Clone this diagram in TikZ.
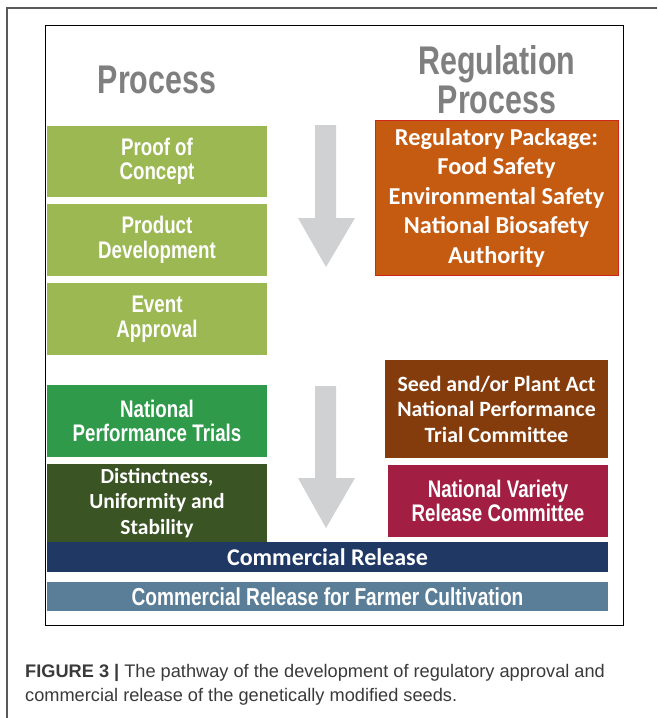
\documentclass[tikz,border=0pt]{standalone}
\usepackage{fontspec}
\setmainfont{Liberation Sans}
\newfontfamily\condbold[FakeStretch=0.78]{Liberation Sans}
\newfontfamily\headfont[FakeStretch=0.76]{Liberation Sans}
\newfontfamily\calibold{Carlito}
\newfontfamily\captionfont{Liberation Sans}
\definecolor{lightgreen}{HTML}{9BB853}
\definecolor{midgreen}{HTML}{2E9A4A}
\definecolor{dusgreen}{HTML}{3A5424}
\definecolor{regorange}{HTML}{C55A11}
\definecolor{regborder}{HTML}{D0281A}
\definecolor{seedbrown}{HTML}{843C0C}
\definecolor{crimson}{HTML}{A21E43}
\definecolor{navy}{HTML}{1F3864}
\definecolor{steel}{HTML}{5B7E98}
\definecolor{arrowgrey}{HTML}{D0D1D3}
\definecolor{headgrey}{HTML}{7F7F7F}
\definecolor{capgrey}{HTML}{3A3A3A}
\begin{document}
\begin{tikzpicture}[x=1pt,y=-1pt,
  box/.style={anchor=north west, inner sep=0pt, outer sep=0pt, text=white, align=center, font=\condbold\bfseries\fontsize{24}{24.5}\selectfont},
  cbox/.style={box, font=\calibold\bfseries\fontsize{22}{25}\selectfont},
  header/.style={anchor=base, inner sep=0pt, text=headgrey, font=\headfont\bfseries\fontsize{40}{40}\selectfont},
  captext/.style={anchor=base west, inner sep=0pt, text=capgrey, font=\captionfont\fontsize{18.2}{24}\selectfont},
  bigarrow/.style={fill=arrowgrey, draw=none}]
% canvas
\useasboundingbox (0,0) rectangle (657,718);
\fill[white] (0,0) rectangle (657,718);
% page frame
\draw[line width=1.2pt, black!65] (7,718) -- (7,8) -- (657,8);
% figure frame
\draw[line width=1pt, black] (45,25) rectangle (623,625);
% column headers
\node[header] (hproc) at (157,93) {Process};
\node[header, text depth=0pt] (hreg1) at (497,74) {Regulation};
\node[header] (hreg2) at (497,113) {Process};
% process column
\node[box, fill=lightgreen, minimum width=220pt, minimum height=71pt] (poc) at (47,126) {Proof of\\Concept};
\node[box, fill=lightgreen, minimum width=220pt, minimum height=72pt] (pd) at (47,204) {Product\\Development};
\node[box, fill=lightgreen, minimum width=220pt, minimum height=72pt] (ea) at (47,283) {Event\\Approval};
\node[box, fill=midgreen, minimum width=220pt, minimum height=72pt] (npt) at (47,385) {National\\Performance Trials};
\node[cbox, fill=dusgreen, minimum width=220pt, minimum height=78pt, font=\calibold\bfseries\fontsize{21.5}{25.5}\selectfont] (dus) at (47,464) {Distinctness,\\Uniformity and\\Stability};
% regulation column
\node[cbox, fill=regorange, draw=regborder, line width=1pt, minimum width=243pt, minimum height=155pt, font=\calibold\bfseries\fontsize{24.3}{29.5}\selectfont] (pkg) at (375,120) {Regulatory Package:\\Food Safety\\Environmental Safety\\National Biosafety\\Authority};
\node[cbox, fill=seedbrown, minimum width=223pt, minimum height=98pt, font=\calibold\bfseries\fontsize{21.8}{25.5}\selectfont] (seed) at (385,360) {Seed and/or Plant Act\\National Performance\\Trial Committee};
\node[box, fill=crimson, minimum width=220pt, minimum height=72pt] (nvr) at (388,465) {National Variety\\Release Committee};
% release bars
\node[cbox, fill=navy, minimum width=561pt, minimum height=30pt, font=\calibold\bfseries\fontsize{24}{24}\selectfont] (cr) at (47,542) {Commercial Release};
\node[box, fill=steel, minimum width=561pt, minimum height=29pt, font=\condbold\bfseries\fontsize{24.5}{24.5}\selectfont] (crf) at (47,582) {Commercial Release for Farmer Cultivation};
% flow arrows
\fill[bigarrow] (315,125) -- (336,125) -- (336,218) -- (355,218) -- (326,267) -- (298,218) -- (315,218) -- cycle;
\fill[bigarrow] (315,386) -- (336,386) -- (336,478) -- (355,478) -- (326,528) -- (298,478) -- (315,478) -- cycle;
% caption
\node[captext] (cap1) at (25,677) {\textbf{FIGURE 3 |} The pathway of the development of regulatory approval and};
\node[captext] (cap2) at (25,701) {commercial release of the genetically modified seeds.};
\end{tikzpicture}
\end{document}
